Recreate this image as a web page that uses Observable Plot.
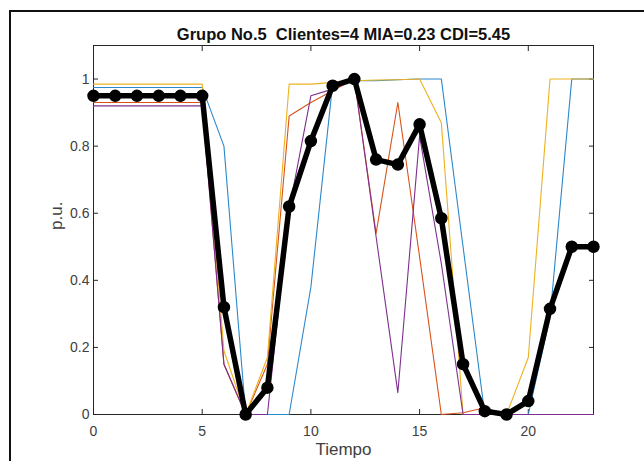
<!DOCTYPE html>
<html><head><meta charset="utf-8">
<script src="https://cdn.jsdelivr.net/npm/d3@7"></script>
<script src="https://cdn.jsdelivr.net/npm/@observablehq/plot@0.6"></script>
<style>
html,body{margin:0;padding:0;background:#fff;overflow:hidden}
#wrap{position:relative;width:644px;height:461px;overflow:hidden}
#border{position:absolute;left:9px;top:10px;width:700px;height:500px;border-left:2px solid #111;border-top:2px solid #111;pointer-events:none}
</style></head><body><div id="wrap"><div id="border"></div></div>
<script>
const titulo = "Grupo No.5\u00a0 Clientes=4 MIA=0.23 CDI=5.45";
const etiquetaX = "Tiempo";
const etiquetaY = "p.u.";
const tiempo = [0,1,2,3,4,5,6,7,8,9,10,11,12,13,14,15,16,17,18,19,20,21,22,23];
const cliente1 = [0.975,0.975,0.975,0.975,0.975,0.975,0.80,0,0,0,0.38,0.985,0.995,0.995,0.998,1.0,1.0,0.5,0,0,0,0.29,1.0,1.0];
const cliente2 = [0.93,0.93,0.93,0.93,0.93,0.93,0.15,0,0.15,0.89,0.93,0.965,1.0,0.54,0.93,0.47,0,0.005,0.02,0,0,0,0,0];
const cliente3 = [0.985,0.985,0.985,0.985,0.985,0.985,0.19,0,0.17,0.985,0.985,0.99,0.995,0.997,0.998,1.0,0.87,0,0,0,0.17,1.0,1.0,1.0];
const cliente4 = [0.92,0.92,0.92,0.92,0.92,0.92,0.15,0,0,0.61,0.95,0.97,1.0,0.53,0.065,0.83,0.45,0,0,0,0,0,0,0];
const promedio = [0.95,0.95,0.95,0.95,0.95,0.95,0.32,0,0.08,0.62,0.815,0.98,1.0,0.76,0.745,0.865,0.585,0.15,0.01,0,0.04,0.315,0.5,0.5];
const coloresClientes = ["#2a88cc","#D95319","#EDB120","#7E2F8E"];
const xTicks = [0,5,10,15,20];
const xTickLabels = ["0","5","10","15","20"];
const yTicks = [0,0.2,0.4,0.6,0.8,1];
const yTickLabels = ["0","0.2","0.4","0.6","0.8","1"];

const clientes = [cliente1, cliente2, cliente3, cliente4];
const rows = (vals) => tiempo.map((t, i) => ({t, v: vals[i]}));
const lineMarks = clientes.map((c, k) => Plot.line(rows(c), {x: "t", y: "v", stroke: coloresClientes[k], strokeWidth: 1.1}));
const ink = "#262626";
const fx = d => xTickLabels[xTicks.indexOf(d)];
const fy = d => yTickLabels[yTicks.indexOf(d)];

const chart = Plot.plot({
  width: 644, height: 461,
  marginLeft: 93, marginRight: 51, marginTop: 45, marginBottom: 47,
  style: {fontFamily: "'Liberation Sans', Arial, Helvetica, sans-serif", background: "transparent", color: ink},
  x: {domain: [0, 23]},
  y: {domain: [0, 1.1]},
  marks: [
    Plot.frame({stroke: ink, strokeWidth: 1}),
    Plot.axisX(xTicks, {anchor: "bottom", tickSize: -5, tickPadding: 17, tickFormat: fx, fontSize: 14, fill: "#404040", stroke: ink, label: null}),
    Plot.axisX(xTicks, {anchor: "top", tickSize: -5, tickFormat: () => "", stroke: ink, label: null}),
    Plot.axisY(yTicks, {anchor: "left", tickSize: -5, tickPadding: 9, tickFormat: fy, fontSize: 14, fill: "#404040", stroke: ink, label: null}),
    Plot.axisY(yTicks, {anchor: "right", tickSize: -5, tickFormat: () => "", stroke: ink, label: null}),
    ...lineMarks,
    Plot.line(rows(promedio), {x: "t", y: "v", stroke: "#000", strokeWidth: 5.5, strokeLinejoin: "round"}),
    Plot.dot(rows(promedio), {x: "t", y: "v", r: 5.5, fill: "#000", stroke: "#000"}),
    Plot.text([titulo], {frameAnchor: "top", dy: -17, fontSize: 16.5, fontWeight: "bold", fill: "#111"}),
    Plot.text([etiquetaX], {frameAnchor: "bottom", dy: 40, fontSize: 17, fill: "#404040"}),
    Plot.text([etiquetaY], {frameAnchor: "left", dx: -37, rotate: -90, fontSize: 17, fill: "#404040"})
  ]
});
document.getElementById("wrap").prepend(chart);
chart.style.position = "absolute";
chart.style.left = "0px";
chart.style.top = "0px";
</script>
</body></html>
